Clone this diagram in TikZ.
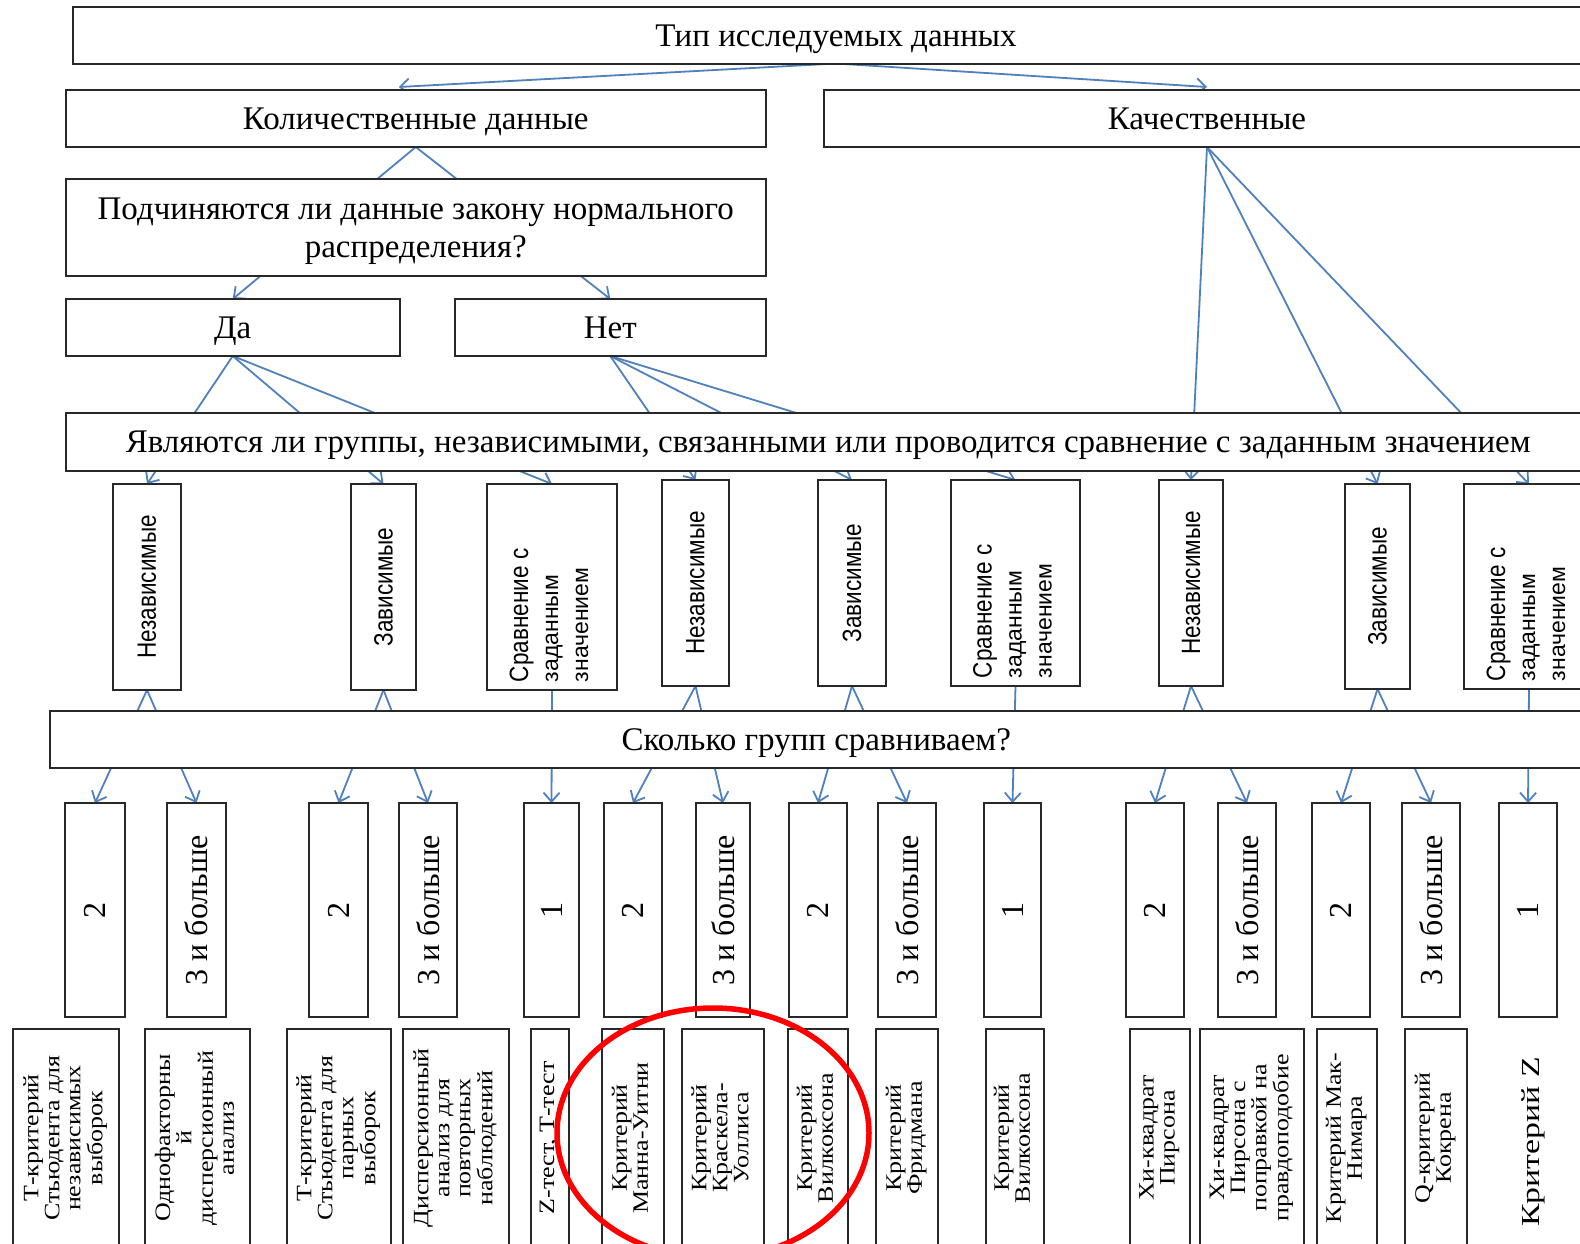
\documentclass[tikz,border=0pt]{standalone}
\usepackage{fontspec}
\setmainfont{Liberation Serif}
\newfontfamily\sansfnt{Liberation Sans}
\usepackage{graphicx}
\usetikzlibrary{arrows.meta}
\pgfdeclarelayer{bg}
\pgfsetlayers{bg,main}
\definecolor{conn}{RGB}{79,129,189}
\definecolor{boxline}{RGB}{40,40,40}
\newcommand\bxx[6]{\node[bx, minimum width={#4-#2}, minimum height={#5-#3}] (#1) at ({(#2+#4)/2},{(#3+#5)/2}) {#6};}
\newcommand\midtxt[2]{\node[rot, font=\sansfnt\fontsize{26.5}{30}\selectfont] (#1-t) at (#1.center) {\scalebox{0.85}[1]{#2}};}
\newcommand\cmptxt[1]{\node[rot, anchor=west, font=\sansfnt\fontsize{23}{30}\selectfont] (#1-t) at ([yshift=8pt]#1.south) {\begin{tabular}{@{}l@{}}{\fontsize{26.5}{30}\selectfont\scalebox{0.85}[1]{Сравнение с}}\\заданным\\значением\end{tabular}};}
\newcommand\numtxt[2]{\node[rot, font=\fontsize{32}{36}\selectfont] (#1-t) at (#1.center) {#2};}
\newcommand\mkbot[4]{\bxx{#1}{#2}{1029}{#3}{1262}{}\node[rot, font=\fontsize{22}{21}\selectfont] (#1-t) at ({(#2+#3)/2},1138) {\scalebox{1.18}[1]{\begin{tabular}{@{}c@{}}#4\end{tabular}}};}
\begin{document}
\begin{tikzpicture}[x=1pt,y=-1pt,
  bx/.style={draw=boxline, line width=2pt, fill=white, inner sep=0pt, outer sep=0pt, align=center, text depth=0pt, font=\fontsize{33}{38}\selectfont},
  cn/.style={draw=conn, line width=1.8pt},
  ar/.style={cn, -{Straight Barb[length=9pt,width=16pt]}},
  rot/.style={rotate=90, inner sep=0pt, outer sep=0pt}]
\useasboundingbox (0,0) rectangle (1580,1243);
% rows 1-5
\bxx{tip}{73}{7}{1599}{63.5}{Тип исследуемых данных}
\bxx{kol}{65.5}{90}{766}{147}{Количественные данные}
\bxx{kach}{824}{90}{1590}{147}{Качественные}
\bxx{pod}{65.5}{179}{766}{276}{Подчиняются ли данные закону нормального\\распределения?}
\bxx{da}{65.5}{299}{400}{356}{Да}
\bxx{net}{454.5}{299}{766}{356}{Нет}
\bxx{grp}{65.5}{413}{1591}{471}{Являются ли группы, независимыми, связанными или проводится сравнение с заданным значением}
% row 6
\bxx{ra}{113}{484}{181}{690}{}
\bxx{rb}{351}{484}{416}{690}{}
\bxx{rc}{487}{484}{617}{690}{}
\bxx{rd}{662}{480}{729}{686}{}
\bxx{re}{818}{480}{886}{686}{}
\bxx{rf}{951}{480}{1080}{686}{}
\bxx{rg}{1159}{480}{1223}{686}{}
\bxx{rh}{1345}{484}{1410}{689}{}
\bxx{ri}{1464}{484}{1594}{689}{}
\midtxt{ra}{Независимые}
\midtxt{rb}{Зависимые}
\cmptxt{rc}
\midtxt{rd}{Независимые}
\midtxt{re}{Зависимые}
\cmptxt{rf}
\midtxt{rg}{Независимые}
\midtxt{rh}{Зависимые}
\cmptxt{ri}
% row 7
\bxx{sk}{49.5}{711}{1583}{768}{Сколько групп сравниваем?}
% row 8
\bxx{na}{65}{803}{125}{1017}{}
\bxx{nb}{167}{803}{226}{1017}{}
\bxx{nc}{309}{803}{368}{1017}{}
\bxx{nd}{399}{803}{457}{1017}{}
\bxx{ne}{524}{803}{579}{1017}{}
\bxx{nf}{604}{803}{662}{1017}{}
\bxx{ng}{696}{803}{750}{1017}{}
\bxx{nh}{789}{803}{847}{1017}{}
\bxx{ni}{878}{803}{936}{1017}{}
\bxx{nj}{984}{803}{1041}{1017}{}
\bxx{nk}{1126}{803}{1184}{1017}{}
\bxx{nl}{1218}{803}{1276}{1017}{}
\bxx{nm}{1312}{803}{1370}{1017}{}
\bxx{nn}{1402}{803}{1460}{1017}{}
\bxx{no}{1499}{803}{1557}{1017}{}
\numtxt{na}{2}
\numtxt{nb}{3 и больше}
\numtxt{nc}{2}
\numtxt{nd}{3 и больше}
\numtxt{ne}{1}
\numtxt{nf}{2}
\numtxt{ng}{3 и больше}
\numtxt{nh}{2}
\numtxt{ni}{3 и больше}
\numtxt{nj}{1}
\numtxt{nk}{2}
\numtxt{nl}{3 и больше}
\numtxt{nm}{2}
\numtxt{nn}{3 и больше}
\numtxt{no}{1}
% bottom row
\mkbot{ba}{13}{119}{Т-критерий\\Стьюдента для\\независимых\\выборок}
\mkbot{bb}{145}{250}{Однофакторны\\й\\дисперсионный\\анализ}
\mkbot{bc}{287}{391}{Т-критерий\\Стьюдента для\\парных\\выборок}
\mkbot{bd}{403}{509}{Дисперсионный\\анализ для\\повторных\\наблюдений}
\mkbot{be}{531}{569}{Z-тест, Т-тест}
\mkbot{bf}{602}{664}{Критерий\\Манна-Уитни}
\mkbot{bg}{682}{764}{Критерий\\Краскела-\\Уоллиса}
\mkbot{bh}{788}{848}{Критерий\\Вилкоксона}
\mkbot{bi}{876}{938}{Критерий\\Фридмана}
\mkbot{bj}{986}{1044}{Критерий\\Вилкоксона}
\mkbot{bk}{1130}{1190}{Хи-квадрат\\Пирсона}
\mkbot{bl}{1200}{1304}{Хи-квадрат\\Пирсона с\\поправкой на\\правдоподобие}
\mkbot{bm}{1317}{1377}{Критерий Мак-\\Нимара}
\mkbot{bn}{1405}{1467}{Q-критерий\\Кокрена}
\bxx{bo}{1503}{1564}{1029}{1262}{}
\node[rot, font=\fontsize{26}{30}\selectfont] (bo-t) at ({(1503+1564)/2},1142) {\scalebox{1.3}[1]{Критерий Z}};
% background and connectors behind boxes
\begin{pgfonlayer}{bg}
\fill[white] (0,0) rectangle (1580,1243);
\draw[ar] (tip.south) -- ([xshift=-17pt,yshift=3pt]kol.north);
\draw[ar] (tip.south) -- ([yshift=3pt]kach.north);
\draw[ar] (kol.south) -- (da.north);
\draw[ar] (kol.south) -- (net.north);
\foreach \t in {ra,rb,rc} \draw[ar] (da.south) -- (\t.north);
\foreach \t in {rd,re,rf} \draw[ar] (net.south) -- (\t.north);
\foreach \t in {rg,rh,ri} \draw[ar] (kach.south) -- (\t.north);
\foreach \s/\t in {ra/na,ra/nb,rb/nc,rb/nd,rc/ne,rd/nf,rd/ng,re/nh,re/ni,rf/nj,rg/nk,rg/nl,rh/nm,rh/nn,ri/no}
  \draw[ar] (\s.south) -- (\t.north);
\end{pgfonlayer}
% red mark
\draw[red, line width=5.5pt] (713,1133) ellipse [x radius=156pt, y radius=125pt];
\end{tikzpicture}
\end{document}
